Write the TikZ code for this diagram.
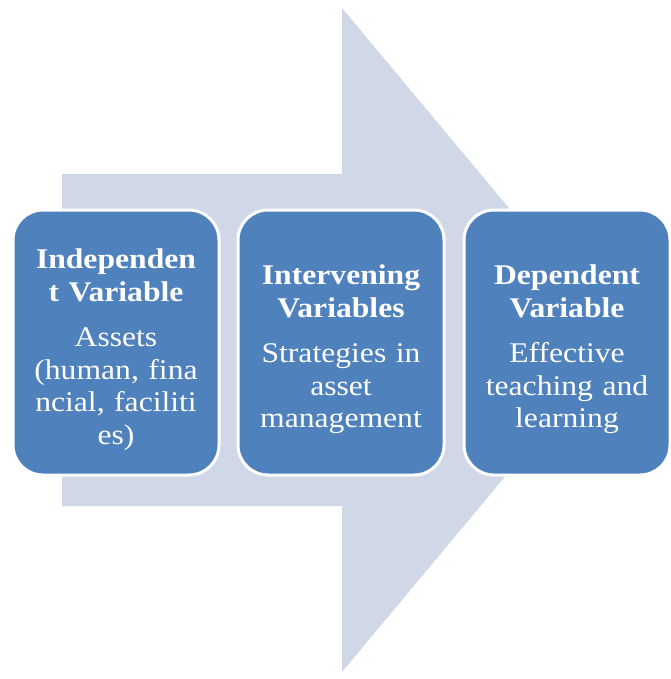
\documentclass[tikz,border=0pt]{standalone}
\usepackage{fontspec}
\setmainfont{Liberation Serif}[FakeStretch=1.11]
\definecolor{arrowfill}{HTML}{D0D8E8}
\definecolor{boxfill}{HTML}{4F81BD}
\begin{document}
\begin{tikzpicture}[x=1pt,y=-1pt,
  varbox/.style={draw=white, line width=3pt, fill=boxfill, rounded corners=30pt,
    minimum width=206pt, minimum height=265pt, inner sep=0pt},
  vartext/.style={text=white, align=center, text width=200pt, inner sep=0pt,
    font=\fontsize{28.5}{32.5}\selectfont},
  ]
  \useasboundingbox (0,0) rectangle (670,679);
  % background block arrow
  \fill[arrowfill] (62,174) -- (342,174) -- (342,8) -- (619,340) -- (342,672)
    -- (342,506) -- (62,506) -- cycle;
  % the three variable boxes
  \node[varbox] (indep) at (116,342.5) {};
  \node[varbox] (interv) at (341,342.5) {};
  \node[varbox] (dep) at (567,342.5) {};
  % their texts, set a little below centre
  \node[vartext] (indeptext) at ([yshift=-7pt]indep.center)
    {\textbf{Independen}\\\textbf{t Variable}\\[13pt]Assets\\(human, fina\\ncial, faciliti\\es)};
  \node[vartext] (intervtext) at ([yshift=-7pt]interv.center)
    {\textbf{Intervening}\\\textbf{Variables}\\[13pt]Strategies in\\asset\\management};
  \node[vartext] (deptext) at ([yshift=-7pt]dep.center)
    {\textbf{Dependent}\\\textbf{Variable}\\[13pt]Effective\\teaching and\\learning};
\end{tikzpicture}
\end{document}
